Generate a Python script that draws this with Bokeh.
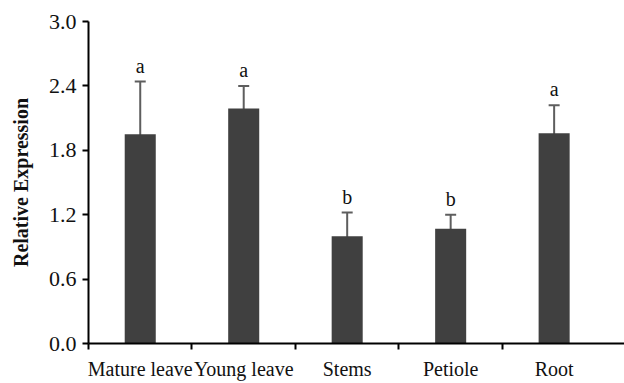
from bokeh.plotting import figure
from bokeh.models import ColumnDataSource, Whisker, TeeHead, FixedTicker, Range1d
from bokeh.core.properties import value
from bokeh.embed import file_html
from bokeh.resources import INLINE

categories = ["Mature leave", "Young leave", "Stems", "Petiole", "Root"]
means = [1.95, 2.19, 1.00, 1.07, 1.96]
errors = [0.49, 0.21, 0.22, 0.13, 0.26]
letters = ["a", "a", "b", "b", "a"]
y_ticks = [0.0, 0.6, 1.2, 1.8, 2.4, 3.0]

xs = [i + 0.5 for i in range(len(categories))]
upper = [m + e for m, e in zip(means, errors)]
lower = [m - e for m, e in zip(means, errors)]
src = ColumnDataSource(dict(x=xs, top=means, upper=upper, lower=lower, letter=letters))

FONT = "Liberation Serif"
p = figure(width=624, height=382, output_backend="svg", toolbar_location=None,
           x_range=Range1d(0, 5.18), y_range=Range1d(0, 3.0),
           min_border_left=88, min_border_right=0, min_border_top=21, min_border_bottom=0)
p.outline_line_color = None
p.xgrid.grid_line_color = None
p.ygrid.grid_line_color = None

p.vbar(x="x", top="top", bottom=0, width=0.3, source=src, fill_color="#404040", line_color=None)
w = Whisker(base="x", upper="upper", lower="lower", source=src, line_color="#5e5e5e", line_width=2,
            upper_head=TeeHead(size=11, line_color="#5e5e5e", line_width=2),
            lower_head=TeeHead(size=11, line_color="#5e5e5e", line_width=2))
p.add_layout(w)
p.text(x="x", y="upper", text="letter", source=src, text_align="center", text_baseline="bottom",
       y_offset=-5, text_font=value(FONT), text_font_size="20px", text_color="#111111")

# x axis
p.xaxis.ticker = FixedTicker(ticks=xs, minor_ticks=list(range(len(categories))))
p.xaxis.major_label_overrides = {x: c for x, c in zip(xs, categories)}
p.xaxis.major_tick_out = 0
p.xaxis.major_tick_in = 0
p.xaxis.minor_tick_out = 6
p.xaxis.minor_tick_in = 0
p.xaxis.minor_tick_line_width = 2
p.xaxis.minor_tick_line_color = "black"
p.xaxis.axis_line_width = 2
p.xaxis.axis_line_color = "black"
p.xaxis.major_label_text_font = FONT
p.xaxis.major_label_text_font_size = "20px"
p.xaxis.major_label_text_color = "#111111"
p.xaxis.major_label_standoff = 8

# y axis
p.yaxis.ticker = FixedTicker(ticks=y_ticks, minor_ticks=[])
p.yaxis.major_label_overrides = {t: f"{t:.1f}" for t in y_ticks}
p.yaxis.major_tick_out = 6
p.yaxis.major_tick_in = 0
p.yaxis.major_tick_line_width = 2
p.yaxis.axis_line_width = 2
p.yaxis.axis_line_color = "black"
p.yaxis.major_label_text_font = FONT
p.yaxis.major_label_text_font_size = "22px"
p.yaxis.major_label_text_color = "#111111"
p.yaxis.major_label_standoff = 6
p.yaxis.axis_label = "Relative Expression"
p.yaxis.axis_label_text_font = FONT
p.yaxis.axis_label_text_font_size = "20px"
p.yaxis.axis_label_text_font_style = "bold"
p.yaxis.axis_label_text_color = "#111111"
p.yaxis.axis_label_standoff = 14

open("out.html", "w").write(file_html(p, INLINE))
